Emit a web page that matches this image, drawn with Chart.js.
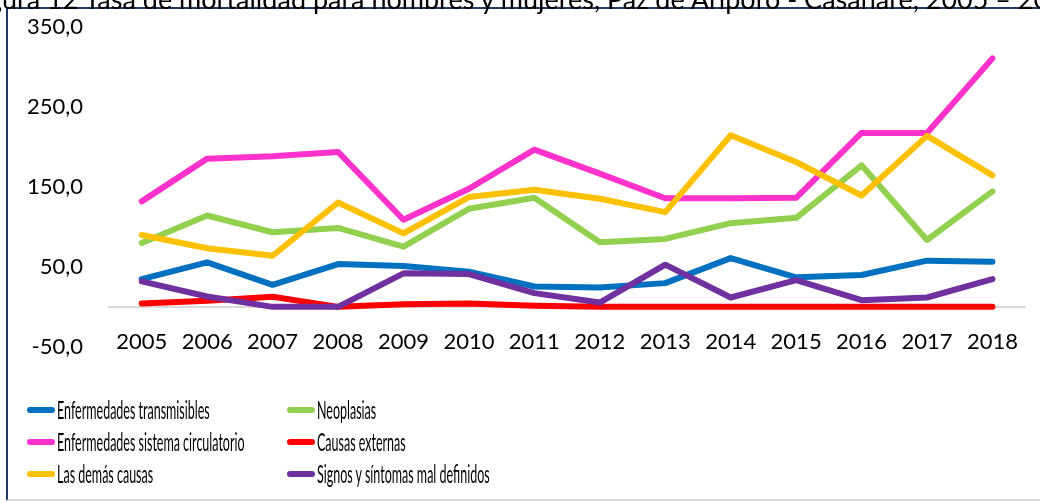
<!DOCTYPE html>
<html>
<head>
<meta charset="utf-8">
<script src="https://cdn.jsdelivr.net/npm/chart.js@4.4.1/dist/chart.umd.min.js"></script>
<style>
  html, body { margin: 0; padding: 0; background: #fff; overflow: hidden; }
  #wrap { position: relative; width: 1040px; height: 502px; overflow: hidden; }
  #titulo { position: absolute; top: -18px; white-space: nowrap; font-family: Lato, sans-serif; font-size: 27px; color: #000; }
  #marco { position: absolute; left: 6px; top: 7px; width: 1040px; height: 490px;
           border-left: 2px solid #1f3864; border-top: 2px solid #1f3864; border-bottom: 2px solid #d9d9d9; }
  #grafico { position: absolute; left: 0; top: -12px; width: 1040px; height: 398px; }
  #leyenda { position: absolute; left: 27px; top: 394px; font-family: Lato, sans-serif; font-size: 25px; color: #000; }
  .item { position: absolute; height: 32px; width: 260px; }
  .linea { position: absolute; left: 0; top: 13px; width: 28px; height: 6px; border-radius: 3px; }
  .txt { position: absolute; left: 30px; top: 0px; white-space: nowrap; transform: scaleX(0.5); transform-origin: left center; }
</style>
</head>
<body>
<div id="wrap">
  <div id="grafico"><canvas id="mycanvas"></canvas></div>
  <div id="marco"></div>
  <div id="titulo">Figura 12 Tasa de mortalidad para hombres y mujeres, Paz de Ariporo - Casanare, 2005 – 2018</div>
  <div id="leyenda"></div>
</div>
<script>
var anios = ['2005', '2006', '2007', '2008', '2009', '2010', '2011', '2012', '2013', '2014', '2015', '2016', '2017', '2018'];

var transmisibles = [34.8, 55.7, 27.6, 53.6, 51.0, 44.0, 25.5, 24.3, 29.7, 61.0, 36.9, 39.8, 57.8, 56.5];
var neoplasias    = [80.0, 114.3, 93.4, 98.8, 75.4, 122.7, 136.5, 80.8, 85.0, 104.7, 111.4, 177.1, 83.7, 144.5];
var circulatorio  = [132.0, 185.5, 188.4, 193.9, 109.0, 147.8, 196.8, 166.7, 136.0, 136.0, 136.5, 217.7, 217.7, 311.0];
var externas      = [4.2, 7.5, 12.6, 0.0, 3.4, 4.2, 1.3, 0.0, 0.0, 0.0, 0.0, 0.0, 0.0, 0.0];
var demas         = [90.0, 73.3, 64.0, 130.6, 92.0, 137.4, 146.6, 135.3, 118.5, 214.8, 181.3, 139.4, 214.0, 164.6];
var signos        = [31.8, 13.0, 0.0, 0.0, 41.9, 41.0, 17.2, 5.4, 52.8, 11.7, 33.5, 8.4, 11.7, 34.8];

var nombres = ['Enfermedades transmisibles', 'Neoplasias', 'Enfermedades sistema circulatorio',
               'Causas externas', 'Las demás causas', 'Signos y síntomas mal definidos'];
var colores = ['#0070C0', '#92D050', '#FF33CC', '#FF0000', '#FFC000', '#7030A0'];
var series = [transmisibles, neoplasias, circulatorio, externas, demas, signos];

var yTicks = [-50, 50, 150, 250, 350];

// titulo cortado como en la imagen
var t = document.getElementById('titulo');
var mctx = document.createElement('canvas').getContext('2d');
mctx.font = '27px Lato';
t.style.left = (-mctx.measureText('Fi').width - 12) + 'px';

var datasets = [];
for (var i = 0; i < series.length; i++) {
    datasets.push({
        label: nombres[i],
        data: series[i],
        borderColor: colores[i],
        backgroundColor: colores[i],
        borderWidth: 6,
        pointRadius: 0,
        tension: 0,
        fill: false,
        borderCapStyle: 'round',
        borderJoinStyle: 'round',
        order: series.length - i
    });
}

var ctx = document.getElementById('mycanvas');
var chart = new Chart(ctx, {
    type: 'line',
    data: { labels: anios, datasets: datasets },
    options: {
        responsive: true,
        maintainAspectRatio: false,
        animation: false,
        layout: { padding: { top: 16, right: 1, bottom: 0, left: 0 } },
        plugins: { legend: { display: false }, tooltip: { enabled: false } },
        scales: {
            x: {
                position: { y: 0 },
                offset: true,
                grid: { display: false, drawTicks: false },
                border: { display: true, color: '#d9d9d9', width: 2 },
                ticks: { color: '#000', padding: 22, maxRotation: 0, autoSkip: false,
                         font: { family: 'Lato', size: 22 } },
                afterFit: function (s) { s.height = 40; }
            },
            y: {
                min: -50,
                max: 350,
                afterBuildTicks: function (s) { s.ticks = yTicks.map(function (v) { return { value: v }; }); },
                grid: { display: false, drawTicks: false },
                border: { display: false },
                ticks: {
                    color: '#000', padding: 26,
                    font: { family: 'Lato', size: 22 },
                    callback: function (v) { return v.toFixed(1).replace('.', ','); }
                },
                afterFit: function (s) { s.width = 109; }
            }
        }
    }
});

// leyenda en dos columnas, hecha con los datos del grafico
var ley = document.getElementById('leyenda');
chart.data.datasets.forEach(function (ds, k) {
    var it = document.createElement('div');
    it.className = 'item';
    it.style.left = (k % 2 === 0 ? 0 : 260) + 'px';
    it.style.top = (Math.floor(k / 2) * 32) + 'px';
    it.innerHTML = '<div class="linea" style="background:' + ds.borderColor + '"></div><span class="txt">' + ds.label + '</span>';
    ley.appendChild(it);
});
</script>
</body>
</html>
